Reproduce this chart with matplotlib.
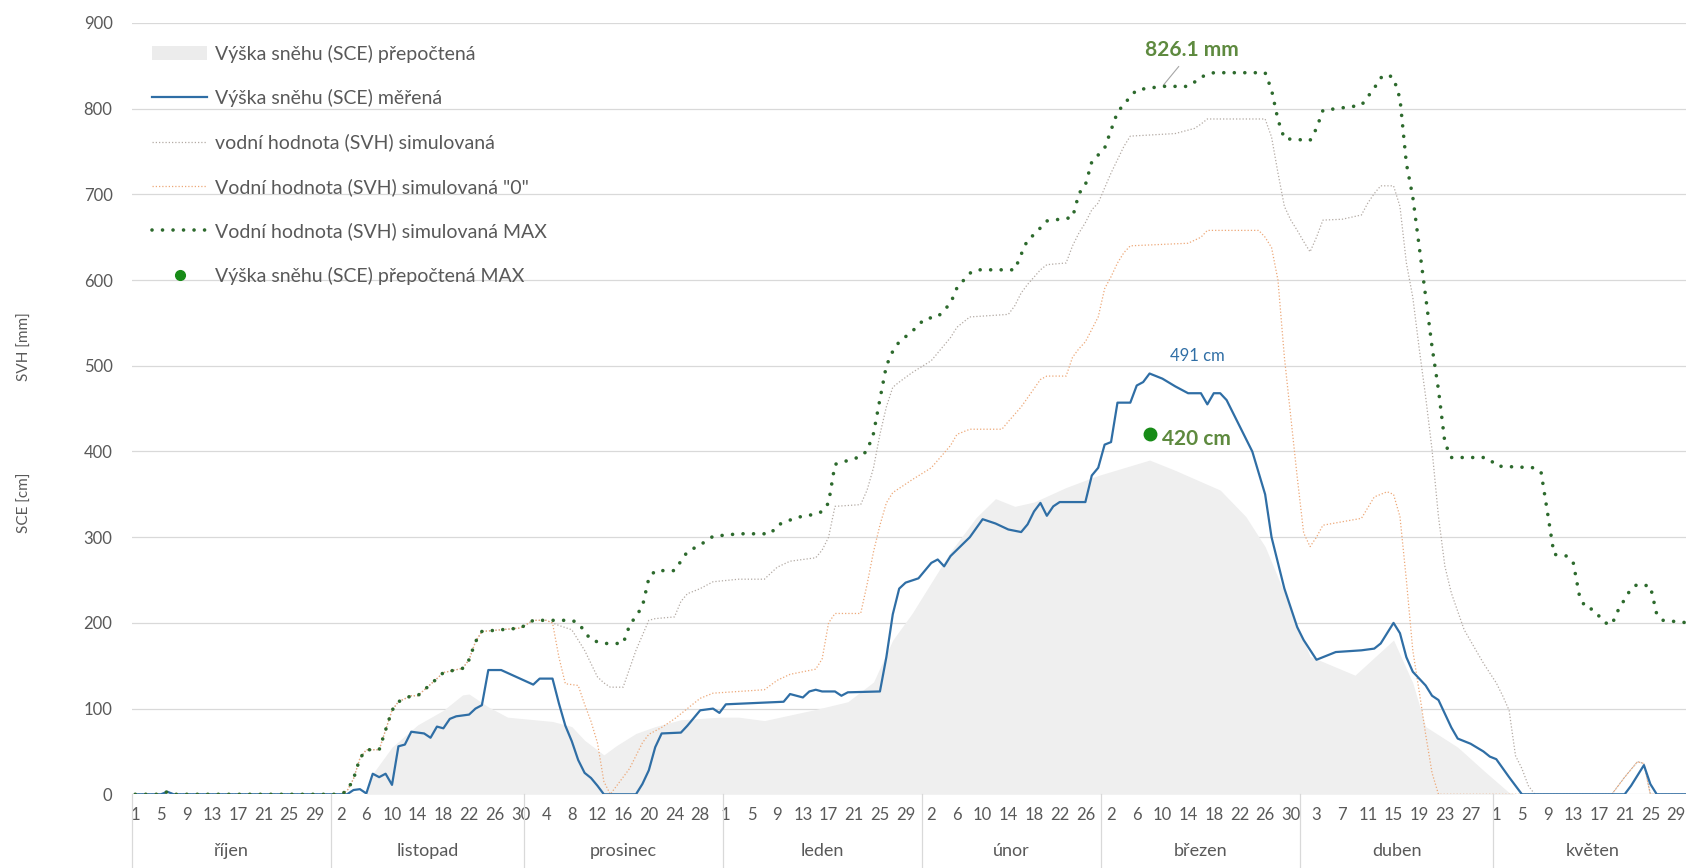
#!/usr/bin/env python3
"""
Snow season chart: snow depth (SCE) and snow water value (SVH), October - May.
"""

import matplotlib
matplotlib.use("Agg")
import matplotlib.pyplot as plt
import matplotlib.transforms as mtransforms
from matplotlib.lines import Line2D
from matplotlib.patches import Patch

plt.rcParams['font.family'] = ['Lato', 'DejaVu Sans']

# calendar of the season (day index 0 = 1 October)
month_names = ['říjen', 'listopad', 'prosinec', 'leden', 'únor', 'březen', 'duben', 'květen']
month_days = [31, 30, 31, 31, 28, 31, 30, 31]

# (day index, value) pairs
svh_shared = [(0, 0), (4, 0), (5, 3), (6, 0), (32, 0), (33, 4), (34, 18), (35, 42), (36, 52),
              (38, 52), (39, 75), (40, 98), (41, 108), (43, 115), (44, 115), (47, 135),
              (48, 142), (51, 147), (52, 157), (53, 178), (54, 190), (60, 194), (62, 203),
              (64, 203)]

svh_max = svh_shared + [
    (68, 203), (69, 200), (71, 180), (73, 176), (76, 176), (77, 197), (79, 219), (80, 252),
    (81, 261), (84, 261), (86, 283), (88, 291), (90, 301), (94, 304), (99, 304), (100, 314),
    (103, 323), (106, 327), (107, 330), (108, 340), (109, 385), (113, 394), (114, 401),
    (115, 421), (116, 461), (117, 500), (118, 517), (119, 528), (121, 540), (123, 555),
    (125, 557), (127, 573), (128, 591), (130, 608), (131, 612), (137, 612), (138, 630),
    (139, 647), (140, 653), (142, 669), (146, 673), (147, 701), (148, 711), (149, 738),
    (151, 754), (152, 775), (153, 796), (155, 814), (156, 822), (160, 826.1), (164, 826),
    (165, 831), (166, 837), (168, 842), (176, 842), (177, 822), (178, 787), (179, 765),
    (183, 763), (184, 777), (185, 798), (191, 804), (192, 814), (193, 824), (194, 836),
    (195, 840), (196, 836), (197, 812), (198, 736), (199, 697), (200, 639), (201, 581),
    (202, 522), (203, 472), (204, 410), (205, 393), (210, 393), (211, 391), (212, 383),
    (218, 381), (219, 375), (220, 328), (221, 280), (223, 278), (224, 270), (225, 230),
    (226, 217), (227, 216), (229, 200), (230, 198), (231, 215), (233, 240), (234, 245),
    (236, 243), (237, 210), (238, 203), (242, 200)]

svh_sim = svh_shared + [
    (65, 200), (66, 197), (68, 192), (70, 168), (72, 137), (73, 130), (74, 125), (76, 125),
    (78, 168), (80, 203), (81, 205), (84, 207), (85, 225), (86, 234), (88, 240), (90, 248),
    (94, 251), (98, 251), (100, 265), (102, 272), (106, 276), (107, 285), (108, 300),
    (109, 336), (113, 338), (114, 355), (115, 381), (116, 420), (117, 452), (118, 475),
    (119, 481), (121, 492), (124, 506), (127, 533), (128, 545), (130, 557), (136, 560),
    (137, 570), (138, 585), (139, 595), (141, 612), (142, 618), (145, 620), (146, 640),
    (147, 655), (148, 667), (149, 682), (150, 690), (152, 725), (154, 756), (155, 768),
    (162, 771), (165, 777), (166, 782), (167, 788), (176, 788), (177, 767), (178, 725),
    (179, 686), (180, 670), (181, 658), (182, 645), (183, 633), (184, 650), (185, 670),
    (188, 671), (191, 676), (192, 690), (193, 701), (194, 710), (196, 710), (197, 686),
    (198, 620), (199, 580), (200, 520), (201, 464), (202, 402), (203, 324), (204, 266),
    (205, 235), (207, 192), (210, 153), (212, 130), (213, 115), (214, 98), (215, 45),
    (216, 30), (217, 10), (218, 0), (230, 0), (232, 20), (234, 38), (235, 36), (236, 0),
    (242, 0)]

svh_zero = svh_shared + [
    (65, 200), (66, 160), (67, 129), (69, 127), (70, 105), (71, 85), (72, 60), (73, 15),
    (74, 0), (75, 10), (76, 20), (77, 30), (78, 45), (79, 60), (80, 70), (82, 78), (84, 88),
    (86, 100), (88, 112), (90, 118), (98, 122), (100, 133), (102, 140), (106, 146),
    (107, 158), (108, 200), (109, 211), (113, 211), (114, 245), (115, 283), (116, 314),
    (117, 340), (118, 352), (121, 367), (124, 381), (127, 407), (128, 420), (130, 426),
    (135, 426), (136, 435), (138, 452), (141, 484), (142, 488), (145, 488), (146, 510),
    (147, 520), (148, 528), (150, 557), (151, 590), (152, 604), (153, 620), (154, 632),
    (155, 640), (164, 643), (166, 650), (167, 658), (175, 658), (176, 650), (177, 638),
    (178, 600), (179, 510), (180, 440), (181, 370), (182, 305), (183, 289), (184, 300),
    (185, 314), (191, 322), (193, 347), (195, 353), (196, 350), (197, 324), (198, 250),
    (199, 168), (200, 120), (201, 70), (202, 25), (203, 0), (230, 0), (232, 20), (234, 38),
    (235, 36), (236, 0), (242, 0)]

sce_measured = [
    (0, 0), (4, 0), (5, 3), (6, 0), (33, 0), (34, 5), (35, 6), (36, 1), (37, 24), (38, 20),
    (39, 24), (40, 11), (41, 56), (42, 58), (43, 73), (45, 71), (46, 66), (47, 79), (48, 77),
    (49, 88), (50, 91), (52, 93), (53, 100), (54, 104), (55, 145), (57, 145), (62, 128),
    (63, 135), (65, 135), (66, 106), (67, 80), (68, 62), (69, 40), (70, 25), (71, 19),
    (72, 10), (73, 0), (78, 0), (79, 12), (80, 28), (81, 55), (82, 71), (85, 72), (86, 80),
    (88, 98), (90, 100), (91, 95), (92, 105), (101, 108), (102, 117), (103, 115), (104, 113),
    (105, 120), (106, 122), (107, 120), (109, 120), (110, 115), (111, 119), (116, 120),
    (117, 160), (118, 210), (119, 240), (120, 247), (122, 252), (124, 270), (125, 274),
    (126, 266), (127, 278), (130, 300), (132, 321), (134, 316), (136, 309), (138, 306),
    (139, 315), (140, 330), (141, 340), (142, 325), (143, 336), (144, 341), (148, 341),
    (149, 372), (150, 381), (151, 408), (152, 411), (153, 457), (155, 457), (156, 477),
    (157, 481), (158, 491), (160, 485), (162, 476), (164, 468), (166, 468), (167, 455),
    (168, 468), (169, 468), (170, 460), (172, 430), (174, 400), (176, 350), (177, 300),
    (179, 240), (181, 195), (182, 180), (184, 157), (187, 166), (191, 168), (193, 170),
    (194, 176), (196, 200), (197, 188), (198, 160), (199, 143), (201, 127), (202, 115),
    (203, 110), (205, 78), (206, 65), (208, 59), (210, 50), (211, 44), (212, 41), (214, 20),
    (216, 0), (232, 0), (233, 10), (235, 34), (236, 12), (237, 0), (242, 0)]

sce_calc = [
    (0, 0), (36, 0), (37, 24), (40, 55), (44, 81), (48, 98), (51, 116), (52, 117), (55, 102),
    (58, 90), (65, 85), (68, 79), (70, 63), (73, 46), (75, 57), (78, 71), (81, 79), (85, 87),
    (91, 90), (94, 90), (98, 86), (106, 99), (111, 108), (115, 131), (118, 180), (121, 211),
    (124, 247), (127, 283), (131, 323), (134, 345), (137, 336), (140, 341), (145, 358),
    (150, 372), (158, 390), (162, 378), (169, 355), (173, 324), (176, 289), (179, 235),
    (183, 161), (190, 139), (196, 180), (199, 130), (201, 79), (206, 55), (210, 28), (214, 2),
    (215, 0), (242, 0)]

sce_calc_max = (158, 420)
svh_max_label = (160, 826.1)
sce_measured_peak = (158, 491)

GRID = '#d9d9d9'
TEXT = '#595959'
GREEN_DOT = '#2d6a2d'
GREEN_TEXT = '#5e8a3f'
BLUE = '#2f6ea5'


def split(pairs):
    return [p[0] for p in pairs], [p[1] for p in pairs]


def create_chart():
    W, H = 1686, 868
    fig = plt.figure(figsize=(W / 100, H / 100), dpi=100)
    n_days = sum(month_days)
    # plot area in pixels: left 132, zero line at 794, 900 at 23, 6.42 px per day
    x0, y0, y900, px_day = 132, 794.3, 23.0, 6.42
    ax = fig.add_axes([x0 / W, (H - y0) / H, n_days * px_day / W, (y0 - y900) / H])

    dx, dy = split(sce_calc)
    ax.fill_between(dx, dy, 0, color='#efefef', lw=0, zorder=1)

    dx, dy = split(sce_measured)
    ax.plot(dx, dy, color=BLUE, lw=1.6, zorder=3)

    dx, dy = split(svh_sim)
    ax.plot(dx, dy, color='#b3aaa4', lw=0.9, ls=(0, (1, 1.6)), zorder=2)

    dx, dy = split(svh_zero)
    ax.plot(dx, dy, color='#eda878', lw=0.9, ls=(0, (1, 1.6)), zorder=2)

    dx, dy = split(svh_max)
    ax.plot(dx, dy, color=GREEN_DOT, lw=2.6, ls=(0, (0.01, 2.9)),
            dash_capstyle='round', zorder=4)

    ax.plot([sce_calc_max[0]], [sce_calc_max[1]], 'o', color='#178b17', ms=9, zorder=5)

    # value labels
    ax.annotate(f'{svh_max_label[1]:.1f} mm', xy=svh_max_label, xytext=(164.6, 868),
                ha='center', va='center', fontsize=15, fontweight='bold', color=GREEN_TEXT,
                arrowprops=dict(arrowstyle='-', color='#a6a6a6', lw=0.8, shrinkA=3, shrinkB=1))
    ax.text(165.4, 512, f'{sce_measured_peak[1]} cm', ha='center', va='center',
            fontsize=12, color=BLUE)
    ax.text(160.0, 415, f'{sce_calc_max[1]} cm', ha='left', va='center',
            fontsize=15, fontweight='bold', color=GREEN_TEXT)

    # axes
    ax.set_xlim(-0.5, n_days - 0.5)
    ax.set_ylim(0, 900)
    ax.set_yticks(range(0, 1000, 100))
    for s in ax.spines.values():
        s.set_visible(False)
    ax.yaxis.grid(True, color=GRID, lw=0.9)
    ax.set_axisbelow(True)
    ax.tick_params(axis='y', length=0, pad=14, labelcolor=TEXT, labelsize=12)

    # day ticks every 4th day
    tick_pos, tick_lab = [], []
    d = 0
    for m_len in month_days:
        for day in range(1, m_len + 1):
            if d % 4 == 0:
                tick_pos.append(d)
                tick_lab.append(str(day))
            d += 1
    ax.set_xticks(tick_pos)
    ax.set_xticklabels(tick_lab)
    ax.tick_params(axis='x', length=0, pad=9, labelcolor=TEXT, labelsize=12)

    # month groups under the day labels
    trans = mtransforms.blended_transform_factory(ax.transData, ax.transAxes)
    bottom = (y0 - H) / (y0 - y900)
    start = 0
    ax.plot([-0.5, -0.5], [0, bottom], color=GRID, lw=0.9, transform=trans, clip_on=False)
    for name, m_len in zip(month_names, month_days):
        end = start + m_len
        ax.plot([end - 0.5, end - 0.5], [0, bottom], color=GRID, lw=0.9,
                transform=trans, clip_on=False)
        ax.text((start + end - 1) / 2, (y0 - 851) / (y0 - y900), name, transform=trans,
                ha='center', va='center', fontsize=13, color=TEXT)
        start = end

    fig.text(25 / W, 1 - 347 / H, 'SVH [mm]', rotation=90, ha='center', va='center',
             fontsize=11, color=TEXT)
    fig.text(25 / W, 1 - 503 / H, 'SCE [cm]', rotation=90, ha='center', va='center',
             fontsize=11, color=TEXT)

    handles = [
        Patch(facecolor='#ececec', edgecolor='none'),
        Line2D([], [], color=BLUE, lw=1.6),
        Line2D([], [], color='#b3aaa4', lw=0.9, ls=(0, (1, 1.6))),
        Line2D([], [], color='#eda878', lw=0.9, ls=(0, (1, 1.6))),
        Line2D([], [], color=GREEN_DOT, lw=2.6, ls=(0, (0.01, 2.9)), dash_capstyle='round'),
        Line2D([], [], color='#178b17', marker='o', ls='none', ms=7),
    ]
    labels = ['Výška sněhu (SCE) přepočtená',
              'Výška sněhu (SCE) měřená',
              'vodní hodnota (SVH) simulovaná',
              'Vodní hodnota (SVH) simulovaná "0"',
              'Vodní hodnota (SVH) simulovaná MAX',
              'Výška sněhu (SCE) přepočtená MAX']
    leg = fig.legend(handles, labels, loc='upper left',
                     bbox_to_anchor=(152 / W, 1 - 44.5 / H), bbox_transform=fig.transFigure,
                     frameon=False, fontsize=14, handlelength=2.83, handletextpad=0.41,
                     labelspacing=1.36, borderpad=0, borderaxespad=0)
    for t in leg.get_texts():
        t.set_color(TEXT)

    return fig


if __name__ == "__main__":
    fig = create_chart()
    fig.savefig('out.png', dpi=100)
    plt.close(fig)
